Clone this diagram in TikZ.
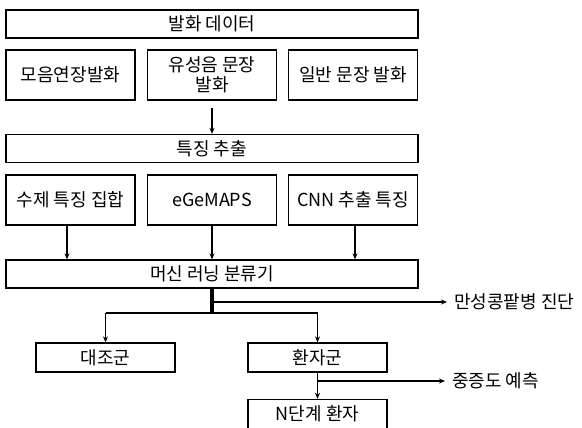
\documentclass[tikz,border=0pt]{standalone}
\usepackage{fontspec}
\setmainfont{Noto Sans CJK KR}
\usetikzlibrary{arrows.meta}

\begin{document}
\begin{tikzpicture}[x=1pt,y=-1pt,
  box/.style={draw, line width=1.3pt, rectangle, inner sep=1pt, align=center, font=\fontsize{18}{20}\selectfont},
  wide/.style={box, minimum width=412pt, minimum height=28pt},
  slot/.style={box, minimum width=129pt, minimum height=50pt},
  group/.style={box, minimum width=139pt, minimum height=29pt},
  outcome/.style={anchor=west, inner xsep=7pt, font=\fontsize{18}{20}\selectfont},
  flow/.style={->, line width=1.8pt},
  >={Stealth[length=6pt,width=5pt]}]
  \useasboundingbox (0,0) rectangle (582,428);

  \node[wide](data) at (212,24) {발화 데이터};
  \node[slot](vowel) at (70.5,75) {모음연장발화};
  \node[slot](voiced) at (212,75) {유성음 문장\\발화};
  \node[slot](general) at (353,75) {일반 문장 발화};

  \node[wide](feat) at (212,148.5) {특징 추출};
  \node[slot](hand) at (70.5,200) {수제 특징 집합};
  \node[slot](egemaps) at (212,200) {eGeMAPS};
  \node[slot](cnn) at (353,200) {CNN 추출 특징};

  \node[wide](ml) at (212,274) {머신 러닝 분류기};

  \node[group](control) at (105.5,357.5) {대조군};
  \node[group](patient) at (317.5,357.5) {환자군};
  \node[group](stage) at (317.5,414) {N단계 환자};

  \node[outcome](diag) at (447,302) {만성콩팥병 진단};
  \node[outcome](sev) at (445,381) {중증도 예측};

  \coordinate (split) at (212,313);
  \coordinate (branch) at (212,302);
  \coordinate (left) at (105.5,313);
  \coordinate (right) at (317.5,313);
  \coordinate (fork) at (317.5,381);

  \draw[flow] (212,108) -- (feat.north);
  \draw[flow] (hand.south -| 67,0) -- (ml.north -| 67,0);
  \draw[flow] (egemaps.south) -- (ml.north);
  \draw[flow] (cnn.south -| 355,0) -- (ml.north -| 355,0);

  \draw[line width=3.5pt] (ml.south) -- (split);
  \draw[flow] (branch) -- (diag.west);
  \draw[line width=1.8pt] (left) -- (right);
  \draw[flow] (left) -- (control.north);
  \draw[flow] (right) -- (patient.north);
  \draw[flow] (patient.south) -- (stage.north);
  \draw[flow] (fork) -- (sev.west);
\end{tikzpicture}
\end{document}
